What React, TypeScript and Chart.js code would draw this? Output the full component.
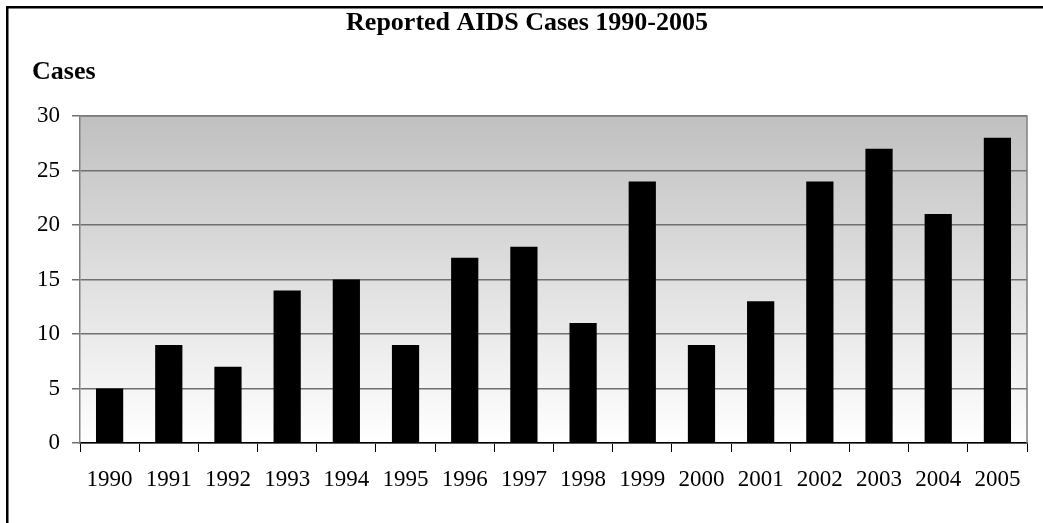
import React, { useEffect, useRef } from "react";
import { Chart, registerables } from "chart.js";

Chart.register(...registerables);

const years = ["1990","1991","1992","1993","1994","1995","1996","1997","1998","1999","2000","2001","2002","2003","2004","2005"];
const cases = [5, 9, 7, 14, 15, 9, 17, 18, 11, 24, 9, 13, 24, 27, 21, 28];
const yTicks = [0, 5, 10, 15, 20, 25, 30];
const titleText = "Reported AIDS Cases 1990-2005";
const yAxisLabel = "Cases";

const decor = {
  id: "decor",
  beforeDraw(chart: any) {
    const { ctx, chartArea: a } = chart;
    ctx.save();
    ctx.fillStyle = "#ffffff";
    ctx.fillRect(0, 0, chart.width, chart.height);
    const g = ctx.createLinearGradient(0, a.top, 0, a.bottom);
    g.addColorStop(0, "#c0c0c0");
    g.addColorStop(1, "#ffffff");
    ctx.fillStyle = g;
    ctx.fillRect(a.left, a.top, a.right - a.left, a.bottom - a.top);
    ctx.restore();
  },
  afterDraw(chart: any) {
    const { ctx, chartArea: a } = chart;
    ctx.save();
    ctx.strokeStyle = "#808080";
    ctx.lineWidth = 1.5;
    ctx.beginPath();
    ctx.moveTo(a.left, a.top);
    ctx.lineTo(a.right, a.top);
    ctx.lineTo(a.right, a.bottom);
    ctx.stroke();
    ctx.fillStyle = "#000000";
    ctx.fillRect(6, 6, chart.width, 2.5);
    ctx.fillRect(6, 6, 2.5, chart.height);
    ctx.font = "bold 26px 'Liberation Serif'";
    ctx.textAlign = "center";
    ctx.textBaseline = "alphabetic";
    ctx.fillText(titleText, 527, 30);
    ctx.textAlign = "left";
    ctx.fillText(yAxisLabel, 32, 79);
    ctx.restore();
  },
};

export default function App() {
  const ref = useRef<HTMLCanvasElement>(null);
  useEffect(() => {
    if (!ref.current) return;
    const chart = new Chart(ref.current, {
      type: "bar",
      data: {
        labels: years,
        datasets: [
          {
            data: cases,
            backgroundColor: "#000000",
            borderWidth: 0,
            barPercentage: 0.46,
            categoryPercentage: 1,
          },
        ],
      },
      options: {
        animation: false,
        responsive: false,
        layout: { padding: { left: 0, top: 116, right: 16, bottom: 0 } },
        plugins: { legend: { display: false }, title: { display: false }, tooltip: { enabled: false } },
        scales: {
          x: {
            offset: true,
            grid: { drawOnChartArea: false, drawTicks: true, tickLength: 9, color: "#000000", offset: true },
            border: { display: true, color: "#000000", width: 1.5 },
            ticks: { color: "#000000", font: { family: "'Liberation Serif'", size: 23 }, padding: 14, maxRotation: 0, autoSkip: false },
            afterFit(scale: any) { scale.height = 80; },
          },
          y: {
            min: 0,
            max: 30,
            afterBuildTicks(scale: any) { scale.ticks = yTicks.map((v) => ({ value: v })); },
            grid: { color: "#707070", lineWidth: 1.5, tickLength: 8, drawTicks: true },
            border: { display: true, color: "#808080", width: 1.5 },
            ticks: { color: "#000000", font: { family: "'Liberation Serif'", size: 23 }, padding: 12 },
            afterFit(scale: any) { scale.width = 80; },
          },
        },
      },
      plugins: [decor],
    });
    return () => chart.destroy();
  }, []);
  return (
    <div style={{ position: "fixed", left: 0, top: 0, width: 1043, height: 523 }}>
      <canvas ref={ref} width={1043} height={523} style={{ display: "block" }} />
    </div>
  );
}
